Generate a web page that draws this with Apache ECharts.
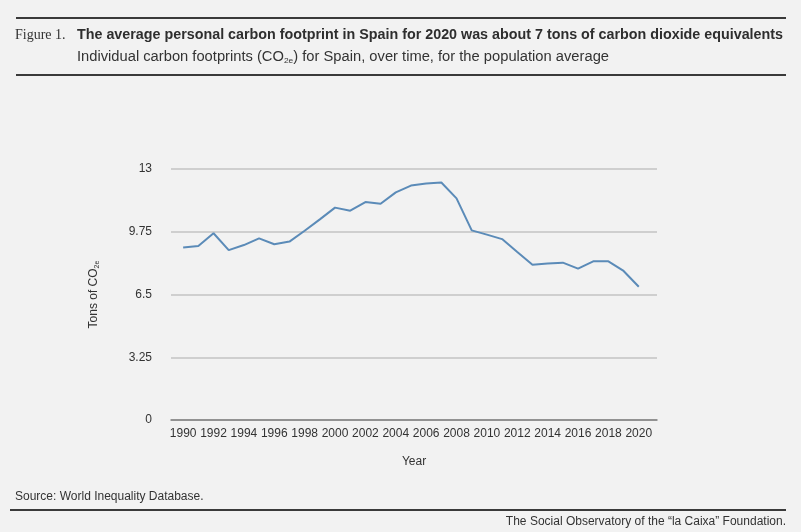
<!DOCTYPE html>
<html>
<head>
<meta charset="utf-8">
<script src="https://cdn.jsdelivr.net/npm/echarts@6/dist/echarts.min.js"></script>
<style>
  html, body { margin: 0; padding: 0; background: #f2f2f2; }
  #main { width: 801px; height: 532px; }
</style>
</head>
<body>
<div id="main"></div>
<script>
// data
var years = [1990, 1991, 1992, 1993, 1994, 1995, 1996, 1997, 1998, 1999,
             2000, 2001, 2002, 2003, 2004, 2005, 2006, 2007, 2008, 2009,
             2010, 2011, 2012, 2013, 2014, 2015, 2016, 2017, 2018, 2019, 2020];
var tons = [8.94, 9.01, 9.67, 8.80, 9.06, 9.41, 9.10, 9.24, 9.80, 10.39,
            11.00, 10.84, 11.29, 11.20, 11.79, 12.14, 12.25, 12.30, 11.48, 9.82,
            9.60, 9.37, 8.70, 8.04, 8.10, 8.15, 7.84, 8.22, 8.22, 7.72, 6.90];
var yearLabels = [1990, 1992, 1994, 1996, 1998, 2000, 2002, 2004, 2006, 2008,
                  2010, 2012, 2014, 2016, 2018, 2020];

var titleText = 'The average personal carbon footprint in Spain for 2020 was about 7 tons of carbon dioxide equivalents';
var subA = 'Individual carbon footprints (CO';
var subB = '2e';
var subC = ') for Spain, over time, for the population average';

var points = years.map(function (y, i) { return [y, tons[i]]; });

var sans = '"Liberation Sans", Arial, sans-serif';

// squeeze/stretch a text so it spans the same width as in the picture
var ctx = document.createElement('canvas').getContext('2d');
function textW(font, s) { ctx.font = font; return ctx.measureText(s).width; }
var titleFont = 'bold 15px ' + sans;
var titleScale = 706 / textW(titleFont, titleText);
var subW = textW('14px ' + sans, subA) + textW('8px ' + sans, subB) + textW('14px ' + sans, subC);
var subScale = 532 / subW;

var chart = echarts.init(document.getElementById('main'));

chart.setOption({
  backgroundColor: '#f2f2f2',
  animation: false,
  grid: { left: 171, top: 169, width: 486, height: 251 },
  xAxis: {
    type: 'value',
    min: 1989.2,
    max: 2021.2,
    name: 'Year',
    nameLocation: 'middle',
    nameGap: 36,
    nameTextStyle: { color: '#333', fontSize: 12, fontFamily: sans },
    splitLine: { show: false },
    axisTick: { show: false },
    axisLine: { show: true, lineStyle: { color: '#7f7f7f', width: 1.5 } },
    axisLabel: {
      customValues: yearLabels,
      color: '#333',
      fontSize: 12,
      fontFamily: sans,
      margin: 8,
      formatter: function (v) { return String(v); }
    }
  },
  yAxis: {
    type: 'value',
    min: 0,
    max: 13,
    interval: 3.25,
    name: '{n|Tons of CO}{s|2e}',
    nameLocation: 'middle',
    nameRotate: 90,
    nameGap: 70,
    nameTextStyle: {
      rich: {
        n: { color: '#333', fontSize: 12, fontFamily: sans, lineHeight: 14 },
        s: { color: '#333', fontSize: 7, fontFamily: sans, lineHeight: 14, padding: [6, 0, 0, 0] }
      }
    },
    axisLine: { show: false },
    axisTick: { show: false },
    splitLine: { lineStyle: { color: '#c3c3c3', width: 1.5 } },
    axisLabel: { color: '#333', fontSize: 12, fontFamily: sans, margin: 19 }
  },
  series: [{
    type: 'line',
    data: points,
    showSymbol: false,
    lineStyle: { color: '#5b8bb8', width: 2 },
    z: 3
  }],
  graphic: [
    { type: 'rect', shape: { x: 16, y: 17, width: 770, height: 2 }, style: { fill: '#3a3a3a' } },
    { type: 'rect', shape: { x: 16, y: 74, width: 770, height: 2 }, style: { fill: '#3a3a3a' } },
    { type: 'text', x: 15, y: 35, style: { text: 'Figure 1.', font: '14px "Liberation Serif", serif',
        fill: '#333', textVerticalAlign: 'middle' } },
    { type: 'text', x: 77, y: 35, scaleX: titleScale,
      style: { text: titleText, font: titleFont, fill: '#2e2e2e', textVerticalAlign: 'middle' } },
    { type: 'text', x: 77, y: 49, scaleX: subScale,
      style: {
        text: '{n|' + subA + '}{s|' + subB + '}{n|' + subC + '}',
        rich: {
          n: { fontSize: 14, fontFamily: sans, fill: '#333', lineHeight: 17 },
          s: { fontSize: 8, fontFamily: sans, fill: '#333', lineHeight: 17, padding: [7, 0, 0, 0] }
        } } },
    { type: 'text', style: { x: 15, y: 497, text: 'Source: World Inequality Database.',
        font: '12px ' + sans, fill: '#333', textVerticalAlign: 'middle' } },
    { type: 'rect', shape: { x: 10, y: 509, width: 776, height: 2 }, style: { fill: '#3a3a3a' } },
    { type: 'text', style: { x: 786, y: 522, text: 'The Social Observatory of the \u201cla Caixa\u201d Foundation.',
        font: '12px ' + sans, fill: '#333', textAlign: 'right', textVerticalAlign: 'middle' } }
  ]
});
</script>
</body>
</html>
